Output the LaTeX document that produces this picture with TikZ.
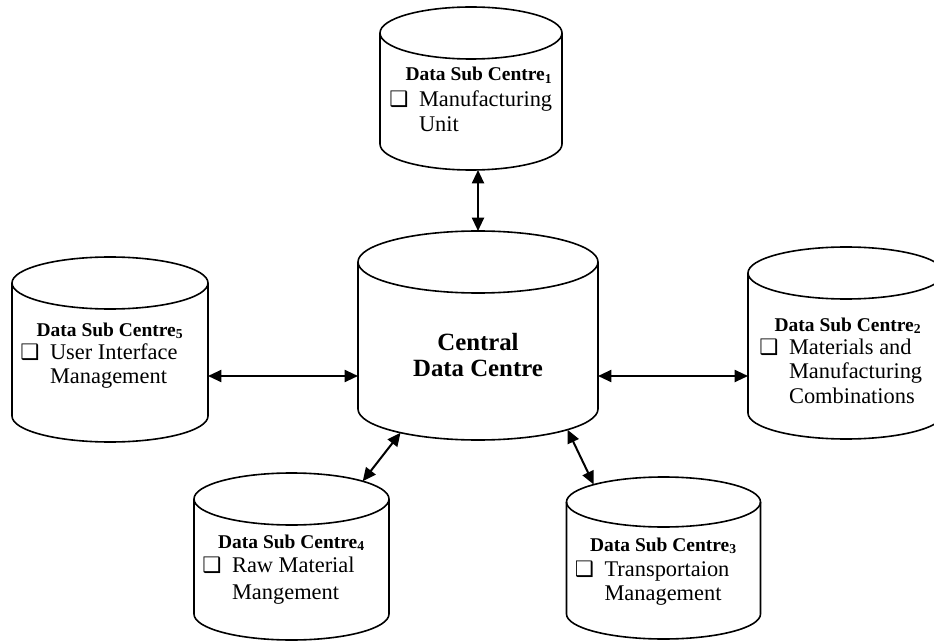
\documentclass[tikz,border=0pt]{standalone}
\usepackage{fontspec}
\setmainfont{Liberation Serif}
\newfontfamily\symfont{DejaVu Sans}
\usetikzlibrary{arrows.meta, positioning, shapes.geometric, calc}

\newcommand{\boxmark}{{\symfont\fontsize{16}{16}\selectfont ❑}}
% #1 name, #2 x, #3 top cap y, #4 bottom cap y, #5 x radius, #6 y radius (all px)
\newcommand{\datastore}[6]{%
    \node[storecap, minimum width=#5*1.5pt, minimum height=#6*1.5pt] (#1-top) at (#2,#3) {};
    \node[storecap, draw=none, minimum width=#5*1.5pt, minimum height=#6*1.5pt] (#1-bot) at (#2,#4) {};
    \draw[storeline] (#1-top.west) -- (#1-bot.west) arc[start angle=180, end angle=360, x radius=#5*0.75pt, y radius=#6*0.75pt] -- (#1-top.east);
}

\begin{document}
\begin{tikzpicture}[x=0.75pt, y=-0.75pt,
    storeline/.style={draw=black, line width=1.2pt},
    storecap/.style={ellipse, storeline, inner sep=0pt, outer sep=0pt},
    title/.style={font=\fontsize{14.6}{18}\selectfont\bfseries, inner sep=0pt, anchor=base},
    item/.style={font=\fontsize{16.8}{18.5}\selectfont, inner sep=0pt, anchor=base west},
    link/.style={{Triangle[length=10pt,width=9pt]}-{Triangle[length=10pt,width=9pt]}, line width=1.5pt}
]
    \useasboundingbox (0,0) rectangle (934,641);
    \clip (0,0) rectangle (934,641);

    % stores
    \datastore{central}{478}{262}{409}{120}{31}
    \datastore{dsc1}{471}{33}{144}{91}{26}
    \datastore{dsc2}{846}{273}{413}{98}{26}
    \datastore{dsc3}{663.5}{502}{614}{97}{25}
    \datastore{dsc4}{291.5}{499}{614}{97.5}{26}
    \datastore{dsc5}{110}{283}{416}{98}{26}

    \node[font=\fontsize{18.6}{19.5}\selectfont\bfseries, align=center, inner sep=0pt] (centralt) at ($(central-top.center)+(0,93)$) {Central\\Data Centre};

    % titles
    \node[title] (dsc1t) at ($(dsc1-top.center)+(8,48)$) {Data Sub Centre\textsubscript{1}};
    \node[title] (dsc2t) at ($(dsc2-top.center)+(2,58)$) {Data Sub Centre\textsubscript{2}};
    \node[title] (dsc3t) at ($(dsc3-top.center)+(0,49)$) {Data Sub Centre\textsubscript{3}};
    \node[title] (dsc4t) at ($(dsc4-top.center)+(0,49)$) {Data Sub Centre\textsubscript{4}};
    \node[title] (dsc5t) at ($(dsc5-top.center)+(0,53)$) {Data Sub Centre\textsubscript{5}};

    % items
    \node[item] (dsc1i) at ($(dsc1t.base -| dsc1-top.west)+(9,26)$) {\begin{tabular}[t]{@{}l@{\hspace{8pt}}l@{}}\boxmark & Manufacturing\\ & Unit\end{tabular}};
    \node[item] (dsc2i) at ($(dsc2t.base -| dsc2-top.west)+(11,23)$) {\begin{tabular}[t]{@{}l@{\hspace{8pt}}l@{}}\boxmark & Materials and\\ & Manufacturing\\ & Combinations\end{tabular}};
    \node[item] (dsc3i) at ($(dsc3t.base -| dsc3-top.west)+(8,25)$) {\begin{tabular}[t]{@{}l@{\hspace{8pt}}l@{}}\boxmark & Transportaion\\ & Management\end{tabular}};
    \node[item] (dsc4i) at ($(dsc4t.base -| dsc4-top.west)+(8,24)$) {\begin{tabular}[t]{@{}l@{\hspace{8pt}}l@{}}\boxmark & Raw Material\\[2pt] & Mangement\end{tabular}};
    \node[item] (dsc5i) at ($(dsc5t.base -| dsc5-top.west)+(8,23)$) {\begin{tabular}[t]{@{}l@{\hspace{8pt}}l@{}}\boxmark & User Interface\\ & Management\end{tabular}};

    % links
    \draw[link] (dsc1-bot.south -| central-top.north) -- (central-top.north);
    \draw[link] (dsc5-top.east |- 0,376) -- (central-top.west |- 0,376);
    \draw[link] (central-top.east |- 0,376) -- (dsc2-top.west |- 0,376);
    \draw[link] (central-bot.197) -- (dsc4-top.14);
    \draw[link] (central-bot.347) -- (dsc3-top.166);
\end{tikzpicture}
\end{document}
